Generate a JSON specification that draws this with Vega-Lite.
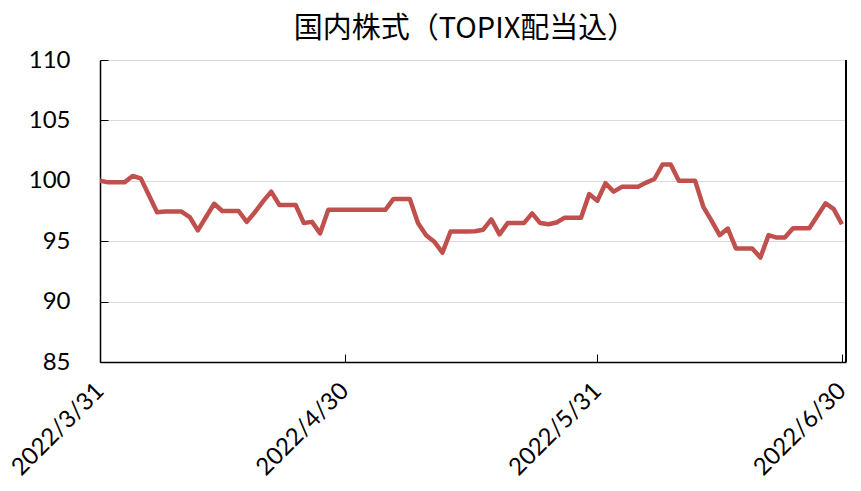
{
  "$schema": "https://vega.github.io/schema/vega-lite/v6.json",
  "width": 746,
  "height": 302,
  "autosize": {"type": "none"},
  "padding": {"left": 100, "top": 60, "right": 15, "bottom": 129},
  "background": "white",
  "config": {"view": {"stroke": null}, "font": "Lato"},
  "title": {"text": "国内株式（TOPIX配当込）", "font": "Noto Sans CJK JP", "fontSize": 29, "fontWeight": "normal", "color": "#000000", "offset": 4, "anchor": "middle", "dx": -8},
  "data": {"values": [
    {"date": "2022-03-31", "v": 100.0},
    {"date": "2022-04-01", "v": 99.87},
    {"date": "2022-04-02", "v": 99.87},
    {"date": "2022-04-03", "v": 99.87},
    {"date": "2022-04-04", "v": 100.4},
    {"date": "2022-04-05", "v": 100.2},
    {"date": "2022-04-06", "v": 98.8},
    {"date": "2022-04-07", "v": 97.4},
    {"date": "2022-04-08", "v": 97.45},
    {"date": "2022-04-09", "v": 97.45},
    {"date": "2022-04-10", "v": 97.45},
    {"date": "2022-04-11", "v": 97.0},
    {"date": "2022-04-12", "v": 95.9},
    {"date": "2022-04-13", "v": 97.0},
    {"date": "2022-04-14", "v": 98.1},
    {"date": "2022-04-15", "v": 97.5},
    {"date": "2022-04-16", "v": 97.5},
    {"date": "2022-04-17", "v": 97.5},
    {"date": "2022-04-18", "v": 96.6},
    {"date": "2022-04-19", "v": 97.4},
    {"date": "2022-04-20", "v": 98.3},
    {"date": "2022-04-21", "v": 99.1},
    {"date": "2022-04-22", "v": 98.0},
    {"date": "2022-04-23", "v": 98.0},
    {"date": "2022-04-24", "v": 98.0},
    {"date": "2022-04-25", "v": 96.5},
    {"date": "2022-04-26", "v": 96.6},
    {"date": "2022-04-27", "v": 95.65},
    {"date": "2022-04-28", "v": 97.6},
    {"date": "2022-04-29", "v": 97.6},
    {"date": "2022-04-30", "v": 97.6},
    {"date": "2022-05-01", "v": 97.6},
    {"date": "2022-05-02", "v": 97.6},
    {"date": "2022-05-03", "v": 97.6},
    {"date": "2022-05-04", "v": 97.6},
    {"date": "2022-05-05", "v": 97.6},
    {"date": "2022-05-06", "v": 98.5},
    {"date": "2022-05-07", "v": 98.5},
    {"date": "2022-05-08", "v": 98.5},
    {"date": "2022-05-09", "v": 96.5},
    {"date": "2022-05-10", "v": 95.5},
    {"date": "2022-05-11", "v": 94.96},
    {"date": "2022-05-12", "v": 94.05},
    {"date": "2022-05-13", "v": 95.8},
    {"date": "2022-05-14", "v": 95.8},
    {"date": "2022-05-15", "v": 95.8},
    {"date": "2022-05-16", "v": 95.83},
    {"date": "2022-05-17", "v": 95.95},
    {"date": "2022-05-18", "v": 96.8},
    {"date": "2022-05-19", "v": 95.57},
    {"date": "2022-05-20", "v": 96.5},
    {"date": "2022-05-21", "v": 96.5},
    {"date": "2022-05-22", "v": 96.5},
    {"date": "2022-05-23", "v": 97.3},
    {"date": "2022-05-24", "v": 96.5},
    {"date": "2022-05-25", "v": 96.4},
    {"date": "2022-05-26", "v": 96.55},
    {"date": "2022-05-27", "v": 96.95},
    {"date": "2022-05-28", "v": 96.95},
    {"date": "2022-05-29", "v": 96.95},
    {"date": "2022-05-30", "v": 98.9},
    {"date": "2022-05-31", "v": 98.35},
    {"date": "2022-06-01", "v": 99.8},
    {"date": "2022-06-02", "v": 99.1},
    {"date": "2022-06-03", "v": 99.5},
    {"date": "2022-06-04", "v": 99.5},
    {"date": "2022-06-05", "v": 99.5},
    {"date": "2022-06-06", "v": 99.85},
    {"date": "2022-06-07", "v": 100.15},
    {"date": "2022-06-08", "v": 101.35},
    {"date": "2022-06-09", "v": 101.35},
    {"date": "2022-06-10", "v": 100.0},
    {"date": "2022-06-11", "v": 100.0},
    {"date": "2022-06-12", "v": 100.0},
    {"date": "2022-06-13", "v": 97.85},
    {"date": "2022-06-14", "v": 96.7},
    {"date": "2022-06-15", "v": 95.5},
    {"date": "2022-06-16", "v": 96.05},
    {"date": "2022-06-17", "v": 94.4},
    {"date": "2022-06-18", "v": 94.4},
    {"date": "2022-06-19", "v": 94.4},
    {"date": "2022-06-20", "v": 93.65},
    {"date": "2022-06-21", "v": 95.5},
    {"date": "2022-06-22", "v": 95.3},
    {"date": "2022-06-23", "v": 95.3},
    {"date": "2022-06-24", "v": 96.07},
    {"date": "2022-06-25", "v": 96.07},
    {"date": "2022-06-26", "v": 96.07},
    {"date": "2022-06-27", "v": 97.1},
    {"date": "2022-06-28", "v": 98.14},
    {"date": "2022-06-29", "v": 97.65},
    {"date": "2022-06-30", "v": 96.4}
  ]},
  "layer": [
    {
      "mark": {"type": "line", "color": "#C0504D", "strokeWidth": 4.5, "strokeJoin": "round", "clip": true},
      "encoding": {
        "x": {
          "field": "date", "type": "temporal",
          "scale": {"type": "utc", "domain": [{"year": 2022, "month": 3, "date": 31, "utc": true}, {"year": 2022, "month": 6, "date": 30, "hours": 12, "utc": true}]},
          "axis": {
            "title": null, "grid": false,
            "values": [{"year": 2022, "month": 3, "date": 31, "utc": true}, {"year": 2022, "month": 4, "date": 30, "utc": true}, {"year": 2022, "month": 5, "date": 31, "utc": true}, {"year": 2022, "month": 6, "date": 30, "utc": true}],
            "labelExpr": "utcFormat(datum.value, '%Y/%-m/%-d')",
            "labelAngle": -45, "labelAlign": "right", "labelBaseline": "middle",
            "labelFont": "Lato", "labelFontSize": 24, "labelColor": "#000000", "labelPadding": 33,
            "labelOverlap": false, "labelFlush": false,
            "domainColor": "#000000", "domainWidth": 1.5,
            "tickColor": "#000000", "tickSize": -8, "tickWidth": 1
          }
        },
        "y": {
          "field": "v", "type": "quantitative",
          "scale": {"domain": [85, 110], "nice": false, "zero": false},
          "axis": {
            "title": null, "values": [85, 90, 95, 100, 105, 110],
            "grid": true, "gridColor": "#d9d9d9", "gridWidth": 1.2,
            "labelFont": "Lato", "labelFontSize": 24, "labelColor": "#000000", "labelPadding": 38,
            "domainColor": "#000000", "domainWidth": 1.5,
            "tickColor": "#000000", "tickSize": -8, "tickWidth": 1
          }
        }
      }
    },
    {
      "mark": {"type": "rule", "color": "#000000", "strokeWidth": 1.5},
      "encoding": {"x": {"datum": {"year": 2022, "month": 6, "date": 30, "hours": 12, "utc": true}, "type": "temporal"}}
    }
  ]
}
